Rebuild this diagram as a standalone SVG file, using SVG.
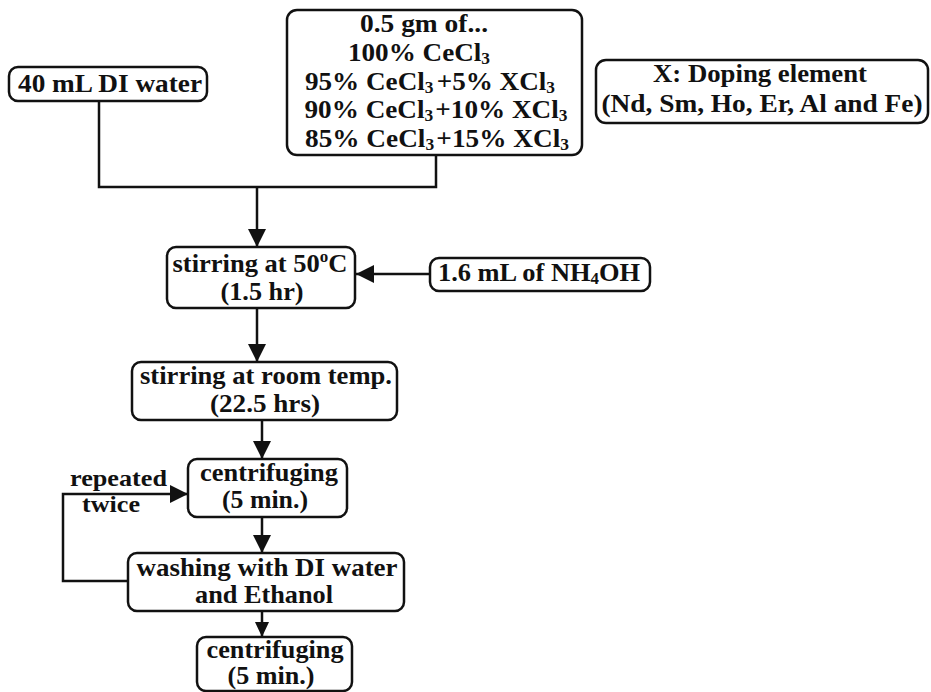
<svg xmlns="http://www.w3.org/2000/svg" width="931" height="692" viewBox="0 0 931 692">
<defs>
<style>
.box{fill:#fff;stroke:#111;stroke-width:2.5}
.t{font-family:"Liberation Serif","Times New Roman",serif;font-weight:bold;font-size:25px;fill:#111;text-anchor:middle}
.tl{font-family:"Liberation Serif","Times New Roman",serif;font-weight:bold;font-size:23px;fill:#111}
.ln{fill:none;stroke:#111;stroke-width:2.5}
.sub{font-size:16px}
</style>
<marker id="ah" markerUnits="userSpaceOnUse" markerWidth="18" markerHeight="18" refX="18" refY="9" orient="auto">
<path d="M0,0 L18,9 L0,18 z" fill="#111"/>
</marker>
<marker id="ahs" markerUnits="userSpaceOnUse" markerWidth="15" markerHeight="14" refX="15" refY="7" orient="auto">
<path d="M0,0 L15,7 L0,14 z" fill="#111"/>
</marker>
</defs>
<rect width="931" height="692" fill="#fff"/>

<g id="connectors">
<polyline class="ln" points="99,101 99,187 436,187 436,155"/>
<line class="ln" x1="257" y1="187" x2="257" y2="247" marker-end="url(#ah)"/>
<line class="ln" x1="430" y1="274" x2="356" y2="274" marker-end="url(#ah)"/>
<line class="ln" x1="257" y1="308" x2="257" y2="362" marker-end="url(#ah)"/>
<line class="ln" x1="262" y1="420" x2="262" y2="459" marker-end="url(#ah)"/>
<line class="ln" x1="262" y1="517" x2="262" y2="553" marker-end="url(#ah)"/>
<line class="ln" x1="262" y1="611" x2="262" y2="637" marker-end="url(#ahs)"/>
<polyline class="ln" points="128,581 63,581 63,494 188,494" marker-end="url(#ah)"/>
<text class="tl" x="70" y="486" textLength="97" lengthAdjust="spacingAndGlyphs">repeated</text>
<text class="tl" x="82" y="512" textLength="58" lengthAdjust="spacingAndGlyphs">twice</text>
</g>

<g id="n-water">
<rect class="box" x="9" y="67" width="198" height="34" rx="9"/>
<text class="t" x="110" y="92" textLength="184" lengthAdjust="spacingAndGlyphs">40 mL DI water</text>
</g>

<g id="n-precursor">
<rect class="box" x="287" y="10" width="295" height="145" rx="10"/>
<text class="t" x="424" y="32" textLength="128" lengthAdjust="spacingAndGlyphs">0.5 gm of...</text>
<text class="t" x="419" y="61" textLength="142" lengthAdjust="spacingAndGlyphs">100% CeCl<tspan class="sub" dy="3">3</tspan></text>
<text class="t" x="430" y="90" textLength="250" lengthAdjust="spacingAndGlyphs">95% CeCl<tspan class="sub" dy="3">3</tspan><tspan dx="3" dy="-3">+5% XCl</tspan><tspan class="sub" dy="3">3</tspan></text>
<text class="t" x="436" y="118" textLength="263" lengthAdjust="spacingAndGlyphs">90% CeCl<tspan class="sub" dy="3">3</tspan><tspan dx="2" dy="-3">+10% XCl</tspan><tspan class="sub" dy="3">3</tspan></text>
<text class="t" x="437" y="147" textLength="264" lengthAdjust="spacingAndGlyphs">85% CeCl<tspan class="sub" dy="3">3</tspan><tspan dx="2" dy="-3">+15% XCl</tspan><tspan class="sub" dy="3">3</tspan></text>
</g>

<g id="n-doping">
<rect class="box" x="596" y="60" width="332" height="63" rx="10"/>
<text class="t" x="760" y="82" textLength="214" lengthAdjust="spacingAndGlyphs">X: Doping element</text>
<text class="t" x="762" y="112" textLength="321" lengthAdjust="spacingAndGlyphs">(Nd, Sm, Ho, Er, Al and Fe)</text>
</g>

<g id="n-stir50">
<rect class="box" x="167" y="247" width="188" height="61" rx="9"/>
<text class="t" x="260" y="272" textLength="175" lengthAdjust="spacingAndGlyphs">stirring at 50<tspan class="sub" dy="-10">o</tspan><tspan dy="10">C</tspan></text>
<text class="t" x="262" y="300" textLength="83" lengthAdjust="spacingAndGlyphs">(1.5 hr)</text>
</g>

<g id="n-nh4oh">
<rect class="box" x="430" y="258" width="220" height="33" rx="9"/>
<text class="t" x="539" y="281" textLength="202" lengthAdjust="spacingAndGlyphs">1.6 mL of NH<tspan class="sub" dy="3">4</tspan><tspan dy="-3">OH</tspan></text>
</g>

<g id="n-stirroom">
<rect class="box" x="132" y="362" width="265" height="58" rx="9"/>
<text class="t" x="266" y="384" textLength="252" lengthAdjust="spacingAndGlyphs">stirring at room temp.</text>
<text class="t" x="265" y="412" textLength="110" lengthAdjust="spacingAndGlyphs">(22.5 hrs)</text>
</g>

<g id="n-centri1">
<rect class="box" x="188" y="459" width="159" height="58" rx="9"/>
<text class="t" x="269" y="481" textLength="138" lengthAdjust="spacingAndGlyphs">centrifuging</text>
<text class="t" x="265" y="508" textLength="86" lengthAdjust="spacingAndGlyphs">(5 min.)</text>
</g>

<g id="n-wash">
<rect class="box" x="128" y="553" width="276" height="58" rx="9"/>
<text class="t" x="267" y="576" textLength="261" lengthAdjust="spacingAndGlyphs">washing with DI water</text>
<text class="t" x="264" y="603" textLength="138" lengthAdjust="spacingAndGlyphs">and Ethanol</text>
</g>

<g id="n-centri2">
<rect class="box" x="197" y="637" width="155" height="54" rx="9"/>
<text class="t" x="275" y="658" textLength="137" lengthAdjust="spacingAndGlyphs">centrifuging</text>
<text class="t" x="271" y="684" textLength="87" lengthAdjust="spacingAndGlyphs">(5 min.)</text>
</g>
</svg>
